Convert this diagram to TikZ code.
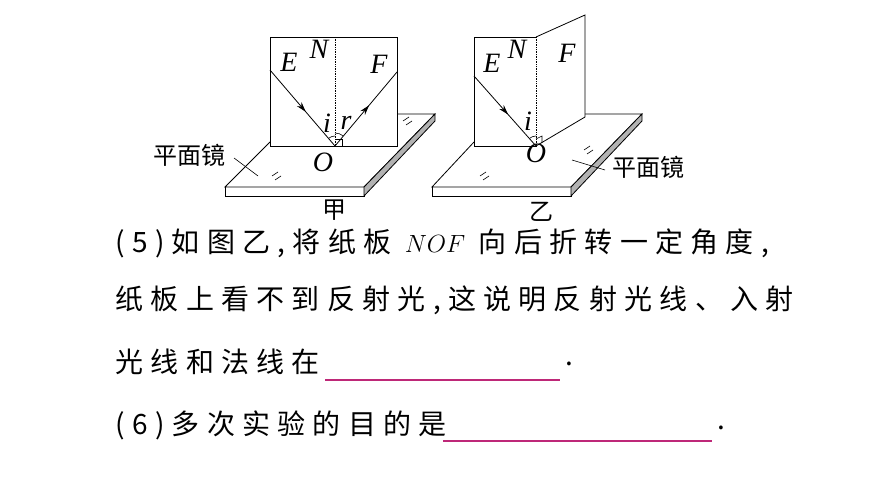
\documentclass[tikz,border=0pt]{standalone}
\usepackage{fontspec}
\setmainfont{Liberation Serif}
\newfontfamily\cjk{Noto Sans CJK SC}
\newfontfamily\cjksp[LetterSpace=26]{Noto Sans CJK SC}
\usetikzlibrary{arrows.meta}
\usetikzlibrary{decorations.markings}
\definecolor{blankline}{RGB}{190,40,120}
\tikzset{
  edge/.style={line width=0.8pt},
  thin edge/.style={line width=0.6pt},
  lbl/.style={font=\fontsize{28}{28}\selectfont\itshape},
  cn/.style={font=\cjk\fontsize{24}{24}\selectfont},
  qline/.style={anchor=west,font=\cjksp\fontsize{28}{28}\selectfont},
  blank/.style={draw=blankline,line width=1.2pt},
  arrowmid/.style={decoration={markings,mark=at position 0.55 with {\arrow{Stealth[length=10pt,width=6pt]}}},postaction={decorate}}
}
\begin{document}
\begin{tikzpicture}[x=1pt,y=-1pt]
  \useasboundingbox (0,0) rectangle (870,489);
  % figure jia
  \coordinate (mA) at (270,142);
  \coordinate (mB) at (225,187);
  \coordinate (mC) at (364,187);
  \coordinate (mD) at (435,114);
  \coordinate (mE) at (397,114);
  \draw[edge] (mA) -- (mB) -- (mC) -- (mD) -- (mE);
  \draw[edge] (mB) -- ++(0,9) -- ++(139,0) -- (mC);
  \draw[edge,fill=gray!60] (mC) -- (mD) -- ++(0,7) -- (364,196) -- cycle;
  \draw[edge,fill=white] (270,37) rectangle (397,146);
  \coordinate (O1) at (335,146);
  \draw[densely dotted,line width=0.7pt] (335,37) -- (O1);
  \draw[edge,arrowmid] (270,70) -- (O1);
  \draw[edge,arrowmid] (O1) -- (397,72);
  \draw[thin edge] (O1) ++(231:10) arc (231:270:10);
  \draw[thin edge] (O1) ++(270:13) arc (270:309:13);
  \draw[thin edge] (335,139) -- (342,139) -- (342,146);
  \node[lbl] (E1) at (289,62) {E};
  \node[lbl] (N1) at (319,49) {N};
  \node[lbl] (F1) at (379,64) {F};
  \node[lbl] (i1) at (327,123) {i};
  \node[lbl] (r1) at (346,123) {r};
  \node[lbl] (Ol1) at (323,162) {O};
  \node[cn] (pm1) at (189,155) {平面镜};
  \coordinate (pt1) at (258,176);
  \draw[thin edge] (234,158) -- (pt1);
  \draw[thin edge] (272,176) -- (278,172) (275,180) -- (281,176);
  \draw[thin edge] (403,121) -- (409,117) (406,125) -- (412,121);
  \node[cn] (jia) at (334,210) {甲};
  % figure yi
  \coordinate (nA) at (474,142);
  \coordinate (nB) at (432,187);
  \coordinate (nC) at (571,187);
  \coordinate (nD) at (642,114);
  \coordinate (nE) at (585,114);
  \draw[edge] (nA) -- (nB) -- (nC) -- (nD) -- (nE);
  \draw[edge] (nB) -- ++(0,9) -- ++(139,0) -- (nC);
  \draw[edge,fill=gray!60] (nC) -- (nD) -- ++(0,7) -- (571,196) -- cycle;
  \draw[edge,fill=white] (474,37) rectangle (536,146);
  \draw[edge,fill=white] (536,37) -- (585,15) -- (585,117) -- (536,146);
  \coordinate (O2) at (536,146);
  \draw[densely dotted,line width=0.7pt] (536,37) -- (O2);
  \draw[edge,arrowmid] (474,76) -- (O2);
  \draw[thin edge] (O2) ++(229:10) arc (229:270:10);
  \draw[thin edge] (536,139) -- (542,136) -- (542,143);
  \node[lbl] (E2) at (492,63) {E};
  \node[lbl] (N2) at (517,49) {N};
  \node[lbl] (F2) at (567,53) {F};
  \node[lbl] (i2) at (528,121) {i};
  \node[lbl] (Ol2) at (536,153) {O};
  \node[cn] (pm2) at (648,167) {平面镜};
  \coordinate (pt2) at (572,160);
  \draw[thin edge] (pt2) -- (605,170);
  \draw[thin edge] (480,176) -- (486,172) (483,180) -- (489,176);
  \draw[thin edge] (584,150) -- (590,146) (587,154) -- (593,150);
  \node[cn] (yi) at (541,212) {乙};
  % text
  \node[qline] (q1) at (112,243) {(5)如图乙,将纸板 $NOF$ 向后折转一定角度,};
  \node[qline] (q2) at (112,300) {纸板上看不到反射光,这说明反射光线、入射};
  \node[qline] (q3) at (112,362) {光线和法线在};
  \draw[blank] (325,380) -- (560,380);
  \node[qline] (p3) at (562,364) {.};
  \node[qline] (q4) at (112,425) {(6)多次实验的目的是};
  \draw[blank] (443,441) -- (712,441);
  \node[qline] (p4) at (714,428) {.};
\end{tikzpicture}
\end{document}
